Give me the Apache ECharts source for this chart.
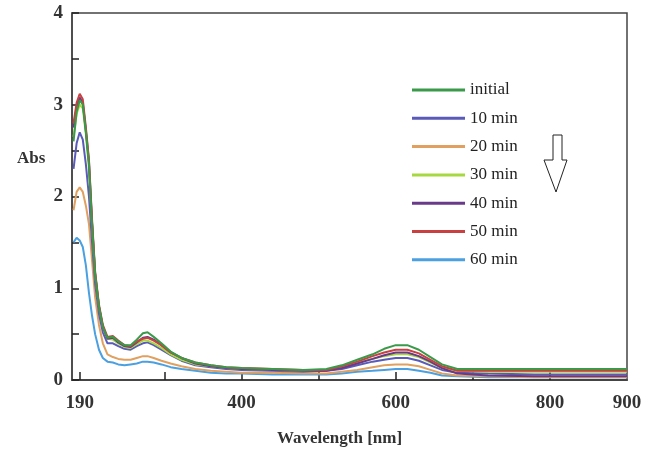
<!DOCTYPE html>
<html><head><meta charset="utf-8">
<script src="https://cdn.jsdelivr.net/npm/echarts@6/dist/echarts.min.js"></script>
<style>html,body{margin:0;padding:0;background:#fff}#c{width:651px;height:452px}</style>
</head><body><div id="c"></div>
<script>
const wavelengths = [182,186,190,194,198,202,206,210,215,220,226,233,240,248,256,264,272,278,286,296,308,322,340,360,380,400,440,480,510,530,550,570,585,600,615,630,645,660,680,720,780,840,900];
const seriesNames = ['initial','10 min','20 min','30 min','40 min','50 min','60 min'];
const seriesColors = ['#3a9a4a','#5a5ab8','#e0a060','#a8d840','#6a3a8a','#c84040','#4aa0e0'];
const absInitial = [2.6,2.92,3.05,3.0,2.7,2.35,1.7,1.15,0.8,0.58,0.46,0.47,0.42,0.38,0.38,0.44,0.51,0.52,0.47,0.4,0.31,0.24,0.19,0.16,0.14,0.13,0.12,0.11,0.12,0.16,0.22,0.28,0.34,0.38,0.38,0.33,0.25,0.17,0.12,0.12,0.12,0.12,0.12];
const abs10 = [2.3,2.58,2.7,2.62,2.35,2.0,1.5,1.05,0.72,0.52,0.4,0.4,0.37,0.34,0.33,0.37,0.4,0.41,0.38,0.33,0.27,0.21,0.16,0.14,0.12,0.11,0.1,0.09,0.1,0.12,0.16,0.2,0.22,0.24,0.24,0.21,0.16,0.11,0.08,0.07,0.06,0.06,0.06];
const abs20 = [1.85,2.05,2.1,2.05,1.9,1.7,1.3,0.9,0.6,0.4,0.28,0.25,0.23,0.22,0.22,0.24,0.26,0.26,0.24,0.21,0.18,0.15,0.12,0.1,0.09,0.08,0.08,0.07,0.07,0.09,0.11,0.14,0.16,0.17,0.17,0.15,0.11,0.07,0.05,0.04,0.03,0.03,0.03];
const abs30 = [2.65,2.9,3.0,2.96,2.68,2.3,1.7,1.15,0.8,0.58,0.45,0.44,0.4,0.36,0.35,0.39,0.43,0.43,0.4,0.35,0.28,0.22,0.17,0.15,0.13,0.12,0.11,0.1,0.11,0.14,0.19,0.23,0.26,0.28,0.28,0.25,0.19,0.13,0.1,0.09,0.09,0.09,0.09];
const abs40 = [2.75,2.98,3.08,3.02,2.72,2.38,1.72,1.16,0.8,0.58,0.45,0.46,0.41,0.37,0.36,0.41,0.46,0.47,0.44,0.38,0.3,0.24,0.18,0.15,0.13,0.12,0.11,0.1,0.1,0.13,0.18,0.23,0.27,0.3,0.3,0.26,0.2,0.13,0.07,0.05,0.04,0.04,0.04];
const abs50 = [2.8,3.02,3.12,3.06,2.75,2.4,1.75,1.18,0.82,0.6,0.47,0.48,0.43,0.38,0.37,0.42,0.45,0.46,0.43,0.38,0.3,0.24,0.19,0.16,0.14,0.13,0.12,0.11,0.11,0.15,0.2,0.26,0.3,0.33,0.33,0.29,0.22,0.15,0.1,0.1,0.1,0.1,0.1];
const abs60 = [1.5,1.55,1.52,1.45,1.25,0.95,0.7,0.5,0.33,0.24,0.2,0.19,0.17,0.16,0.17,0.18,0.2,0.2,0.19,0.17,0.14,0.12,0.1,0.08,0.07,0.07,0.06,0.06,0.06,0.07,0.09,0.1,0.11,0.12,0.12,0.1,0.08,0.05,0.04,0.03,0.03,0.03,0.03];
const xTickValues = [190,300,400,500,600,700,800];
const xLabelValues = [190,400,600,800,900];
const yLabelValues = [0,1,2,3,4];

const allData = [absInitial,abs10,abs20,abs30,abs40,abs50,abs60];
const drawOrder = [6,2,1,3,4,5,0];
const font = '"Liberation Serif", "Times New Roman", serif';

const chart = echarts.init(document.getElementById('c'));
chart.setOption({
  animation: false,
  backgroundColor: '#fff',
  grid: {left: 72, right: 24, top: 13, bottom: 71, show: true, borderColor: '#444', borderWidth: 1.5, backgroundColor: 'transparent'},
  legend: {
    orient: 'vertical', left: 407, top: 76,
    itemWidth: 53, itemHeight: 3, itemGap: 10.3, icon: 'rect',
    data: seriesNames,
    textStyle: {fontFamily: font, fontSize: 17, color: '#222', lineHeight: 18, padding: [0,0,0,0]}
  },
  xAxis: {
    type: 'value', min: 180, max: 900,
    name: 'Wavelength [nm]', nameLocation: 'middle', nameGap: 50,
    nameTextStyle: {fontFamily: font, fontWeight: 'bold', fontSize: 17, color: '#333', padding: [0,20,0,0]},
    axisLine: {lineStyle: {color: '#444', width: 2}},
    axisTick: {inside: true, length: 8, lineStyle: {color: '#222', width: 1.5}, customValues: xTickValues},
    axisLabel: {customValues: xLabelValues, fontFamily: font, fontWeight: 'bold', fontSize: 19, color: '#333', margin: 14},
    splitLine: {show: false}
  },
  yAxis: {
    type: 'value', min: 0, max: 4, interval: 0.5,
    axisLine: {show: true, lineStyle: {color: '#444', width: 1.5}},
    axisTick: {inside: true, length: 7, lineStyle: {color: '#222', width: 1.5}},
    axisLabel: {customValues: yLabelValues, fontFamily: font, fontWeight: 'bold', fontSize: 19, color: '#333', margin: 9},
    splitLine: {show: false}
  },
  title: {text: 'Abs', left: 12, top: 145, textStyle: {fontFamily: font, fontWeight: 'bold', fontSize: 17, color: '#333'}},
  graphic: [{
    type: 'polygon', z: 100,
    shape: {points: [[553,135],[562,135],[562,160],[567,160],[556,192],[544,160],[553,160]]},
    style: {fill: '#fff', stroke: '#222', lineWidth: 1}
  }],
  series: drawOrder.map(i => ({
    name: seriesNames[i], type: 'line', showSymbol: false, symbol: 'none',
    color: seriesColors[i],
    lineStyle: {width: 2, color: seriesColors[i]},
    data: wavelengths.map((w, k) => [w, allData[i][k]])
  }))
});
</script></body></html>
